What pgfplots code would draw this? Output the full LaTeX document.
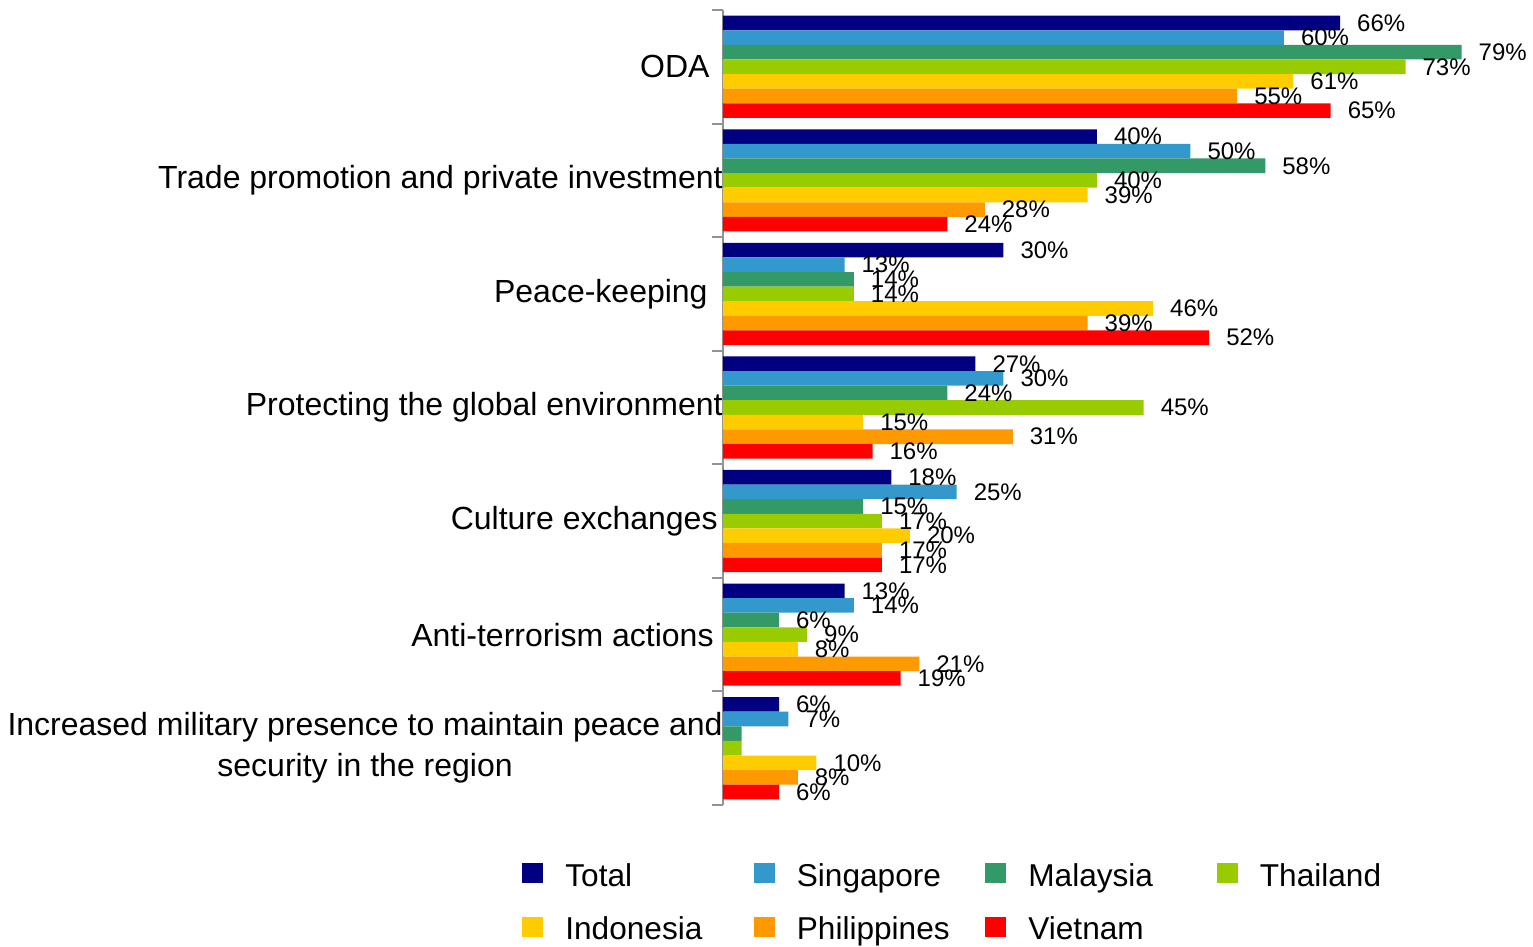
\documentclass[border=0pt]{standalone}
\usepackage{pgfplots}
\pgfplotsset{compat=1.18}
\usepackage{fontspec}
\setmainfont{Liberation Sans}
\definecolor{cTotal}{HTML}{000080}
\definecolor{cSing}{HTML}{3399CC}
\definecolor{cMal}{HTML}{339966}
\definecolor{cThai}{HTML}{99CC00}
\definecolor{cIndo}{HTML}{FFCC00}
\definecolor{cPhil}{HTML}{FF9900}
\definecolor{cViet}{HTML}{FF0000}
\begin{document}
\begin{tikzpicture}
\begin{axis}[
  at={(0,0)}, anchor=south west,
  scale only axis, width=374pt, height=397.5pt,
  xbar=0pt, bar width=7.3pt,
  xmin=0, xmax=80,
  ymin=-0.5, ymax=6.5, y dir=reverse,
  axis x line=none, axis y line*=left,
  ytick={0,...,6},
  yticklabels={ODA\hspace{6.5pt}, Trade promotion and private investment, Peace-keeping\hspace{7.5pt}, Protecting the global environment, Culture exchanges\hspace{2.5pt}, Anti-terrorism actions\hspace{4.5pt}, {Increased military presence to maintain peace and\\security in the region}},
  yticklabel style={font=\fontsize{16}{20.5}\selectfont, align=center, inner sep=0pt},
  major tick length=0pt,
  minor ytick={-0.5,0.5,...,6.5},
  minor tick length=5.5pt, tick align=outside,
  y axis line style={draw=gray!85, line width=1pt},
  every tick/.style={draw=gray!85, line width=1pt},
  nodes near coords, point meta=explicit symbolic,
  every node near coord/.append style={font=\fontsize{12}{14}\selectfont, anchor=west, xshift=5pt, text=black},
  clip=false,
  legend columns=4,
  legend style={at={(-0.2687,-0.073)}, anchor=north west, draw=none, fill=none, inner sep=0pt,
    font=\fontsize{15.8}{18}\selectfont, row sep=13.7pt,
    nodes={inner sep=0pt},
    /tikz/every odd column/.append style={column sep=11pt},
    /tikz/every even column/.append style={column sep=4.25pt}},
  legend image code/.code={\fill[#1] (0pt,-3.5pt) rectangle (10.5pt,6.5pt);},
]
\addplot[fill=cTotal, draw=none, bar shift=21.9pt] coordinates {(66,0)[66\%] (40,1)[40\%] (30,2)[30\%] (27,3)[27\%] (18,4)[18\%] (13,5)[13\%] (6,6)[6\%]};
\addlegendentry{\makebox[90pt][l]{Total}}
\addplot[fill=cSing, draw=none, bar shift=14.6pt] coordinates {(60,0)[60\%] (50,1)[50\%] (13,2)[13\%] (30,3)[30\%] (25,4)[25\%] (14,5)[14\%] (7,6)[7\%]};
\addlegendentry{\makebox[90pt][l]{Singapore}}
\addplot[fill=cMal, draw=none, bar shift=7.3pt] coordinates {(79,0)[79\%] (58,1)[58\%] (14,2)[14\%] (24,3)[24\%] (15,4)[15\%] (6,5)[6\%] (2,6)[\relax]};
\addlegendentry{\makebox[90pt][l]{Malaysia}}
\addplot[fill=cThai, draw=none, bar shift=0pt] coordinates {(73,0)[73\%] (40,1)[40\%] (14,2)[14\%] (45,3)[45\%] (17,4)[17\%] (9,5)[9\%] (2,6)[\relax]};
\addlegendentry{\makebox[90pt][l]{Thailand}}
\addplot[fill=cIndo, draw=none, bar shift=-7.3pt] coordinates {(61,0)[61\%] (39,1)[39\%] (46,2)[46\%] (15,3)[15\%] (20,4)[20\%] (8,5)[8\%] (10,6)[10\%]};
\addlegendentry{\makebox[90pt][l]{Indonesia}}
\addplot[fill=cPhil, draw=none, bar shift=-14.6pt] coordinates {(55,0)[55\%] (28,1)[28\%] (39,2)[39\%] (31,3)[31\%] (17,4)[17\%] (21,5)[21\%] (8,6)[8\%]};
\addlegendentry{\makebox[90pt][l]{Philippines}}
\addplot[fill=cViet, draw=none, bar shift=-21.9pt] coordinates {(65,0)[65\%] (24,1)[24\%] (52,2)[52\%] (16,3)[16\%] (17,4)[17\%] (19,5)[19\%] (6,6)[6\%]};
\addlegendentry{\makebox[90pt][l]{Vietnam}}
\end{axis}
\pgfresetboundingbox
\path[use as bounding box] (-361.5pt,-71pt) rectangle (405pt,402.5pt);
\end{tikzpicture}
\end{document}
